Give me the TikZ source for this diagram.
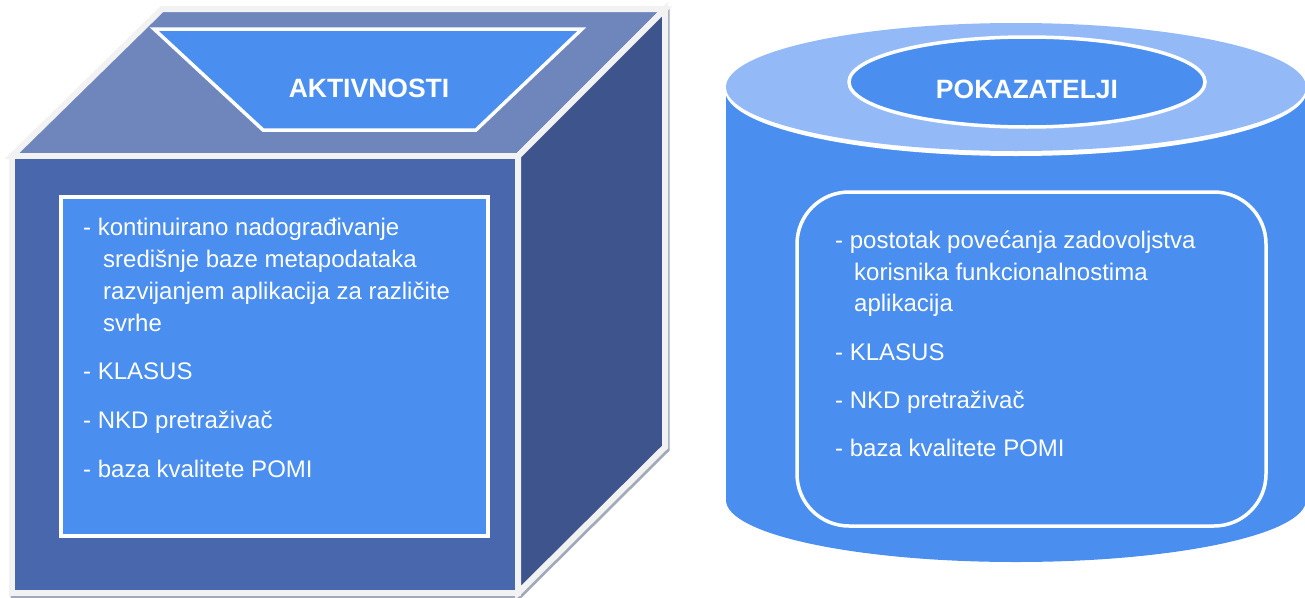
\documentclass[tikz,border=0pt]{standalone}
\usepackage{fontspec}
\setmainfont{Liberation Sans}
\definecolor{cubefront}{HTML}{4967AD}
\definecolor{cubetop}{HTML}{6F86BD}
\definecolor{cubeside}{HTML}{3D548C}
\definecolor{accent}{HTML}{4A8EEF}
\definecolor{cubeedge}{HTML}{F2F2F2}
\definecolor{edgeshadow}{HTML}{A2AABA}
\definecolor{cyltop}{HTML}{93BAF6}
\begin{document}
\begin{tikzpicture}[x=1pt,y=-1pt,
  face/.style={draw=cubeedge, line width=6pt, line join=miter},
  panel/.style={draw=white, line width=3.5pt, fill=accent},
  bodytext/.style={anchor=base west, inner sep=0pt, text=white,
    font=\fontsize{24}{28}\selectfont},
  title/.style={anchor=base, inner sep=0pt, text=white,
    font=\fontsize{26.5}{30}\selectfont\bfseries}]
\useasboundingbox (0,0) rectangle (1305,597);

% ---- cube: soft shadow under the outline, then the three faces
\draw[draw=edgeshadow, line width=6pt, shift={(1.5,2.5)}]
  (12,156) -- (162,9) -- (665,9) -- (665,447) -- (518,593) -- (12,593) -- cycle;
\filldraw[face, fill=cubetop]  (12,156) -- (162,9) -- (665,9) -- (518,156) -- cycle;
\filldraw[face, fill=cubeside] (518,156) -- (665,9) -- (665,447) -- (518,593) -- cycle;
\filldraw[face, fill=cubefront] (12,156) rectangle (518,593);

% title plate on the lid
\filldraw[panel] (154,29) -- (582,29) -- (476,130) -- (263,130) -- cycle;
\node[title] (akt) at (369,97) {AKTIVNOSTI};

% list panel on the front face
\filldraw[panel] (61,197) rectangle (488,536);
\node[bodytext] (a1) at (83,235)  {- kontinuirano nadograđivanje};
\node[bodytext] (a2) at (103,267) {središnje baze metapodataka};
\node[bodytext] (a3) at (103,299) {razvijanjem aplikacija za različite};
\node[bodytext] (a4) at (103,331) {svrhe};
\node[bodytext] (a5) at (83,379)  {- KLASUS};
\node[bodytext] (a6) at (83,428)  {- NKD pretraživač};
\node[bodytext] (a7) at (83,477)  {- baza kvalitete POMI};

% ---- cylinder: body, lid with white rim, label ellipse
\fill[accent] (726,87) rectangle (1306,500);
\fill[accent] (1016,500) ellipse [x radius=290pt, y radius=62pt];
\fill[white] (1016,90) ellipse [x radius=291pt, y radius=66pt];
\fill[cyltop] (1016,87) ellipse [x radius=290pt, y radius=64pt];
\filldraw[panel] (1027,82) ellipse [x radius=178pt, y radius=45pt];
\node[title] (pok) at (1027,98) {POKAZATELJI};

% list panel on the cylinder body
\draw[draw=white, line width=3.5pt, rounded corners=52pt] (797,192) rectangle (1266,526);
\node[bodytext] (p1) at (835,248) {- postotak povećanja zadovoljstva};
\node[bodytext] (p2) at (854,280) {korisnika funkcionalnostima};
\node[bodytext] (p3) at (854,311) {aplikacija};
\node[bodytext] (p4) at (835,360) {- KLASUS};
\node[bodytext] (p5) at (835,408) {- NKD pretraživač};
\node[bodytext] (p6) at (835,456) {- baza kvalitete POMI};
\end{tikzpicture}
\end{document}
